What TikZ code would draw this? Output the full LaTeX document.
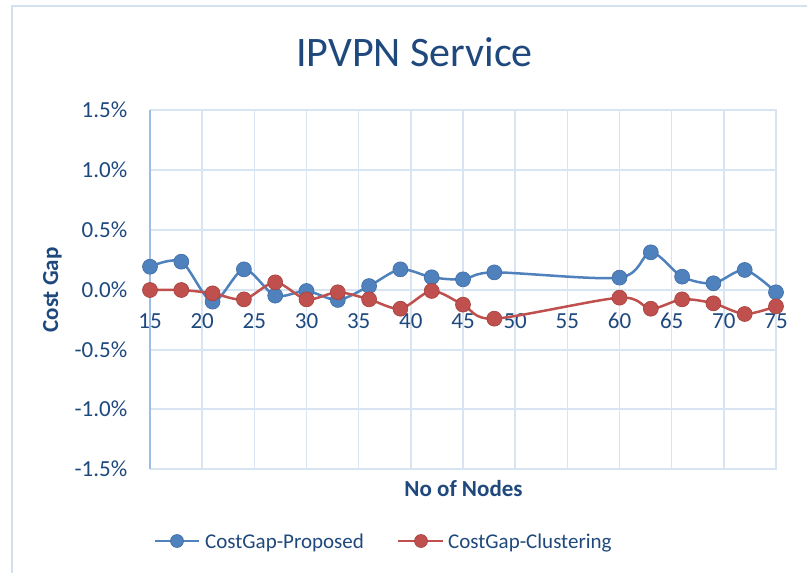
\documentclass[tikz,border=0pt]{standalone}
\usepackage{fontspec}
\setmainfont{Carlito}
\definecolor{txt}{HTML}{1F497D}
\definecolor{gridc}{HTML}{D9E4F2}
\definecolor{axisc}{HTML}{9DBDE6}
\definecolor{framec}{HTML}{D3E0F0}
\definecolor{serA}{HTML}{4F81BD}
\definecolor{serAd}{HTML}{3F6DA6}
\definecolor{serB}{HTML}{C0504D}
\definecolor{serBd}{HTML}{A5403D}
\tikzset{
  gridline/.style={draw=gridc, line width=1.6pt},
  ticklab/.style={text=txt, font=\fontsize{23}{27}\selectfont, inner sep=0pt},
  axtitle/.style={text=txt, font=\fontsize{23}{27}\selectfont\bfseries, inner sep=0pt},
  leglab/.style={text=txt, font=\fontsize{21}{25}\selectfont, inner sep=0pt, anchor=base west},
  lineA/.style={draw=serA, line width=2.5pt},
  lineB/.style={draw=serB, line width=2.5pt},
  markA/.style={circle, fill=serA, draw=serAd, line width=0.6pt, minimum size=15pt, inner sep=0pt},
  markB/.style={circle, fill=serB, draw=serBd, line width=0.6pt, minimum size=15pt, inner sep=0pt},
}
\begin{document}
\begin{tikzpicture}[x=1pt, y=-1pt]
\useasboundingbox (0,0) rectangle (807,573);
\fill[white] (0,0) rectangle (807,573);
% chart frame (cropped)
\draw[framec, line width=2.2pt] (12,573) -- (12,6) -- (807,6);
% title
\node[text=txt, font=\fontsize{42}{49}\selectfont, anchor=base, inner sep=0pt] (title) at (414.5,66.5) {IPVPN Service};
% grid lines
\foreach \yy in {110,170,230,290,350,409,469} {\draw[gridline] (150,\yy) -- (777,\yy);}
\foreach \i in {0,...,12} {\draw[gridline] ({150+\i*626/12},110) -- ({150+\i*626/12},469);}
\draw[axisc, line width=1.8pt] (150,110) -- (150,469);
% y tick labels
\foreach \yy/\lab in {110/1.5\%,170/1.0\%,230/0.5\%,290/0.0\%,350/-0.5\%,409/-1.0\%,469/-1.5\%}
  {\node[ticklab, anchor=base east] at (127.5,\yy+7.3) {\lab};}
% x tick labels
\foreach \i in {0,...,12} {
  \pgfmathtruncatemacro{\v}{15+5*\i}
  \node[ticklab, anchor=base] at ({150+\i*626/12},328.3) {\v};
}
% axis titles
\node[axtitle, rotate=90, anchor=base] (ytitle) at (58,290) {Cost Gap};
\node[axtitle, anchor=base] (xtitle) at (463.5,496.5) {No of Nodes};
% data
\begin{scope}[shift={(150,290)}, x=10.4333pt, y=120pt]
\draw[lineA] plot[smooth, tension=0.5] coordinates {
 (0,0.194) (3,0.236) (6,-0.097) (9,0.172) (12,-0.047) (15,-0.008) (18,-0.083) (21,0.033) (24,0.172) (27,0.106) (30,0.089) (33,0.147) (45,0.103) (48,0.314) (51,0.111) (54,0.056) (57,0.167) (60,-0.019)};
\draw[lineB] plot[smooth, tension=0.5] coordinates {
 (0,0) (3,0) (6,-0.028) (9,-0.078) (12,0.064) (15,-0.078) (18,-0.019) (21,-0.078) (24,-0.156) (27,-0.008) (30,-0.122) (33,-0.239) (45,-0.064) (48,-0.156) (51,-0.078) (54,-0.111) (57,-0.2) (60,-0.136)};
\foreach \xx/\yy [count=\k] in {0/0.194,3/0.236,6/-0.097,9/0.172,12/-0.047,15/-0.008,18/-0.083,21/0.033,24/0.172,27/0.106,30/0.089,33/0.147,45/0.103,48/0.314,51/0.111,54/0.056,57/0.167,60/-0.019}
  {\node[markA] (a\k) at (\xx,\yy) {};}
\foreach \xx/\yy [count=\k] in {0/0,3/0,6/-0.028,9/-0.078,12/0.064,15/-0.078,18/-0.019,21/-0.078,24/-0.156,27/-0.008,30/-0.122,33/-0.239,45/-0.064,48/-0.156,51/-0.078,54/-0.111,57/-0.2,60/-0.136}
  {\node[markB] (b\k) at (\xx,\yy) {};}
\end{scope}
% legend
\coordinate (la1) at (155,541);
\coordinate (la2) at (199,541);
\draw[lineA] (la1) -- (la2);
\node[markA, minimum size=13pt] (lam) at (177,541) {};
\node[leglab] (lat) at (205,548.3) {CostGap-Proposed};
\coordinate (lb1) at (398,541);
\coordinate (lb2) at (443,541);
\draw[lineB] (lb1) -- (lb2);
\node[markB, minimum size=13pt] (lbm) at (421,541) {};
\node[leglab] (lbt) at (448,548.3) {CostGap-Clustering};
\end{tikzpicture}
\end{document}
